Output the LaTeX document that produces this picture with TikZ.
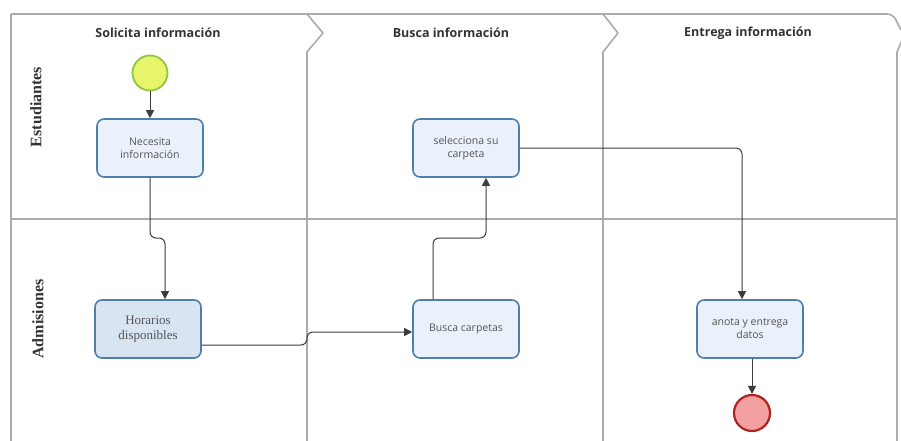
\documentclass[tikz,border=0pt]{standalone}
\usepackage{fontspec}
\setmainfont{Liberation Serif}
\newfontfamily\osfont{Open Sans}
\usetikzlibrary{arrows.meta,calc}
\definecolor{framec}{HTML}{ABABAB}
\definecolor{boxborder}{HTML}{4F7FAE}
\definecolor{boxfill}{HTML}{EAF1FB}
\definecolor{boxfilldark}{HTML}{D8E4F2}
\definecolor{linec}{HTML}{3C3C3C}
\definecolor{txt}{HTML}{555555}
\definecolor{startfill}{HTML}{E8F56A}
\definecolor{startdraw}{HTML}{8CC63F}
\definecolor{endfill}{HTML}{F2A0A0}
\definecolor{enddraw}{HTML}{B22222}
\begin{document}
\begin{tikzpicture}[x=1pt,y=-1pt,
  frameline/.style={draw=framec,line width=1.6pt,line join=round},
  task/.style={draw=boxborder,fill=boxfill,line width=1.6pt,rounded corners=7pt,
    minimum width=106pt,minimum height=58pt,align=center,text=txt,
    font=\osfont\fontsize{10.5}{13}\selectfont},
  conn/.style={draw=linec,line width=1pt,rounded corners=6pt,
    -{Triangle[length=8pt,width=8pt]}},
  phase/.style={font=\osfont\bfseries\fontsize{12.5}{14}\selectfont,text=black!80},
  lane/.style={font=\bfseries\fontsize{16}{18}\selectfont,text=black!80,rotate=90}]
\useasboundingbox (0,0) rectangle (901,441);
% frame
\draw[frameline,line width=2.4pt] (11,441) -- (11,14);
\draw[frameline,rounded corners=6pt] (11,14) -- (893,14) -- (901,30);
\draw[frameline] (307,14) -- (323,33) -- (307,52) -- (307,441);
\draw[frameline] (603,14) -- (618,33) -- (603,52) -- (603,441);
\draw[frameline] (905,33) -- (897,52) -- (897,441);
\draw[frameline] (11,219) -- (897,219);
% titles
\node[phase] (p1) at (158,33) {Solicita información};
\node[phase] (p2) at (451,33) {Busca información};
\node[phase] (p3) at (748,33) {Entrega información};
\node[lane] (l1) at (36,107) {Estudiantes};
\node[lane] (l2) at (38,319) {Admisiones};
% events
\node[circle,draw=startdraw,fill=startfill,line width=1.8pt,minimum size=35pt,inner sep=0pt] (start) at (150,73) {};
\node[circle,draw=enddraw,fill=endfill,line width=2.2pt,minimum size=36pt,inner sep=0pt] (end) at (752,413) {};
% tasks
\node[task] (nec) at (150,148) {Necesita\\información};
\node[task] (sel) at (466,148) {selecciona su\\carpeta};
\node[task,fill=boxfilldark,font=\fontsize{13}{14.5}\selectfont] (hor) at (148,329) {Horarios\\disponibles};
\node[task] (bus) at (466,329) {Busca carpetas};
\node[task] (ano) at (750,329) {anota y entrega\\datos};
% connectors
\draw[conn] (start) -- (nec);
\draw[conn] (nec.south) -- (150,238) -- (165,238) -- ($(hor.north)+(17,0)$);
\draw[conn] ($(hor.east)+(0,16)$) -- (307,345) -- (307,332) -- ($(bus.west)+(0,3)$);
\draw[conn] ($(bus.north)+(-33,0)$) -- (433,238) -- (486,238) -- ($(sel.south)+(20,0)$);
\draw[conn] (sel.east) -- (742,148) -- ($(ano.north)+(-8,0)$);
\draw[conn] ($(ano.south)+(2,0)$) -- (end.north);
\end{tikzpicture}
\end{document}
